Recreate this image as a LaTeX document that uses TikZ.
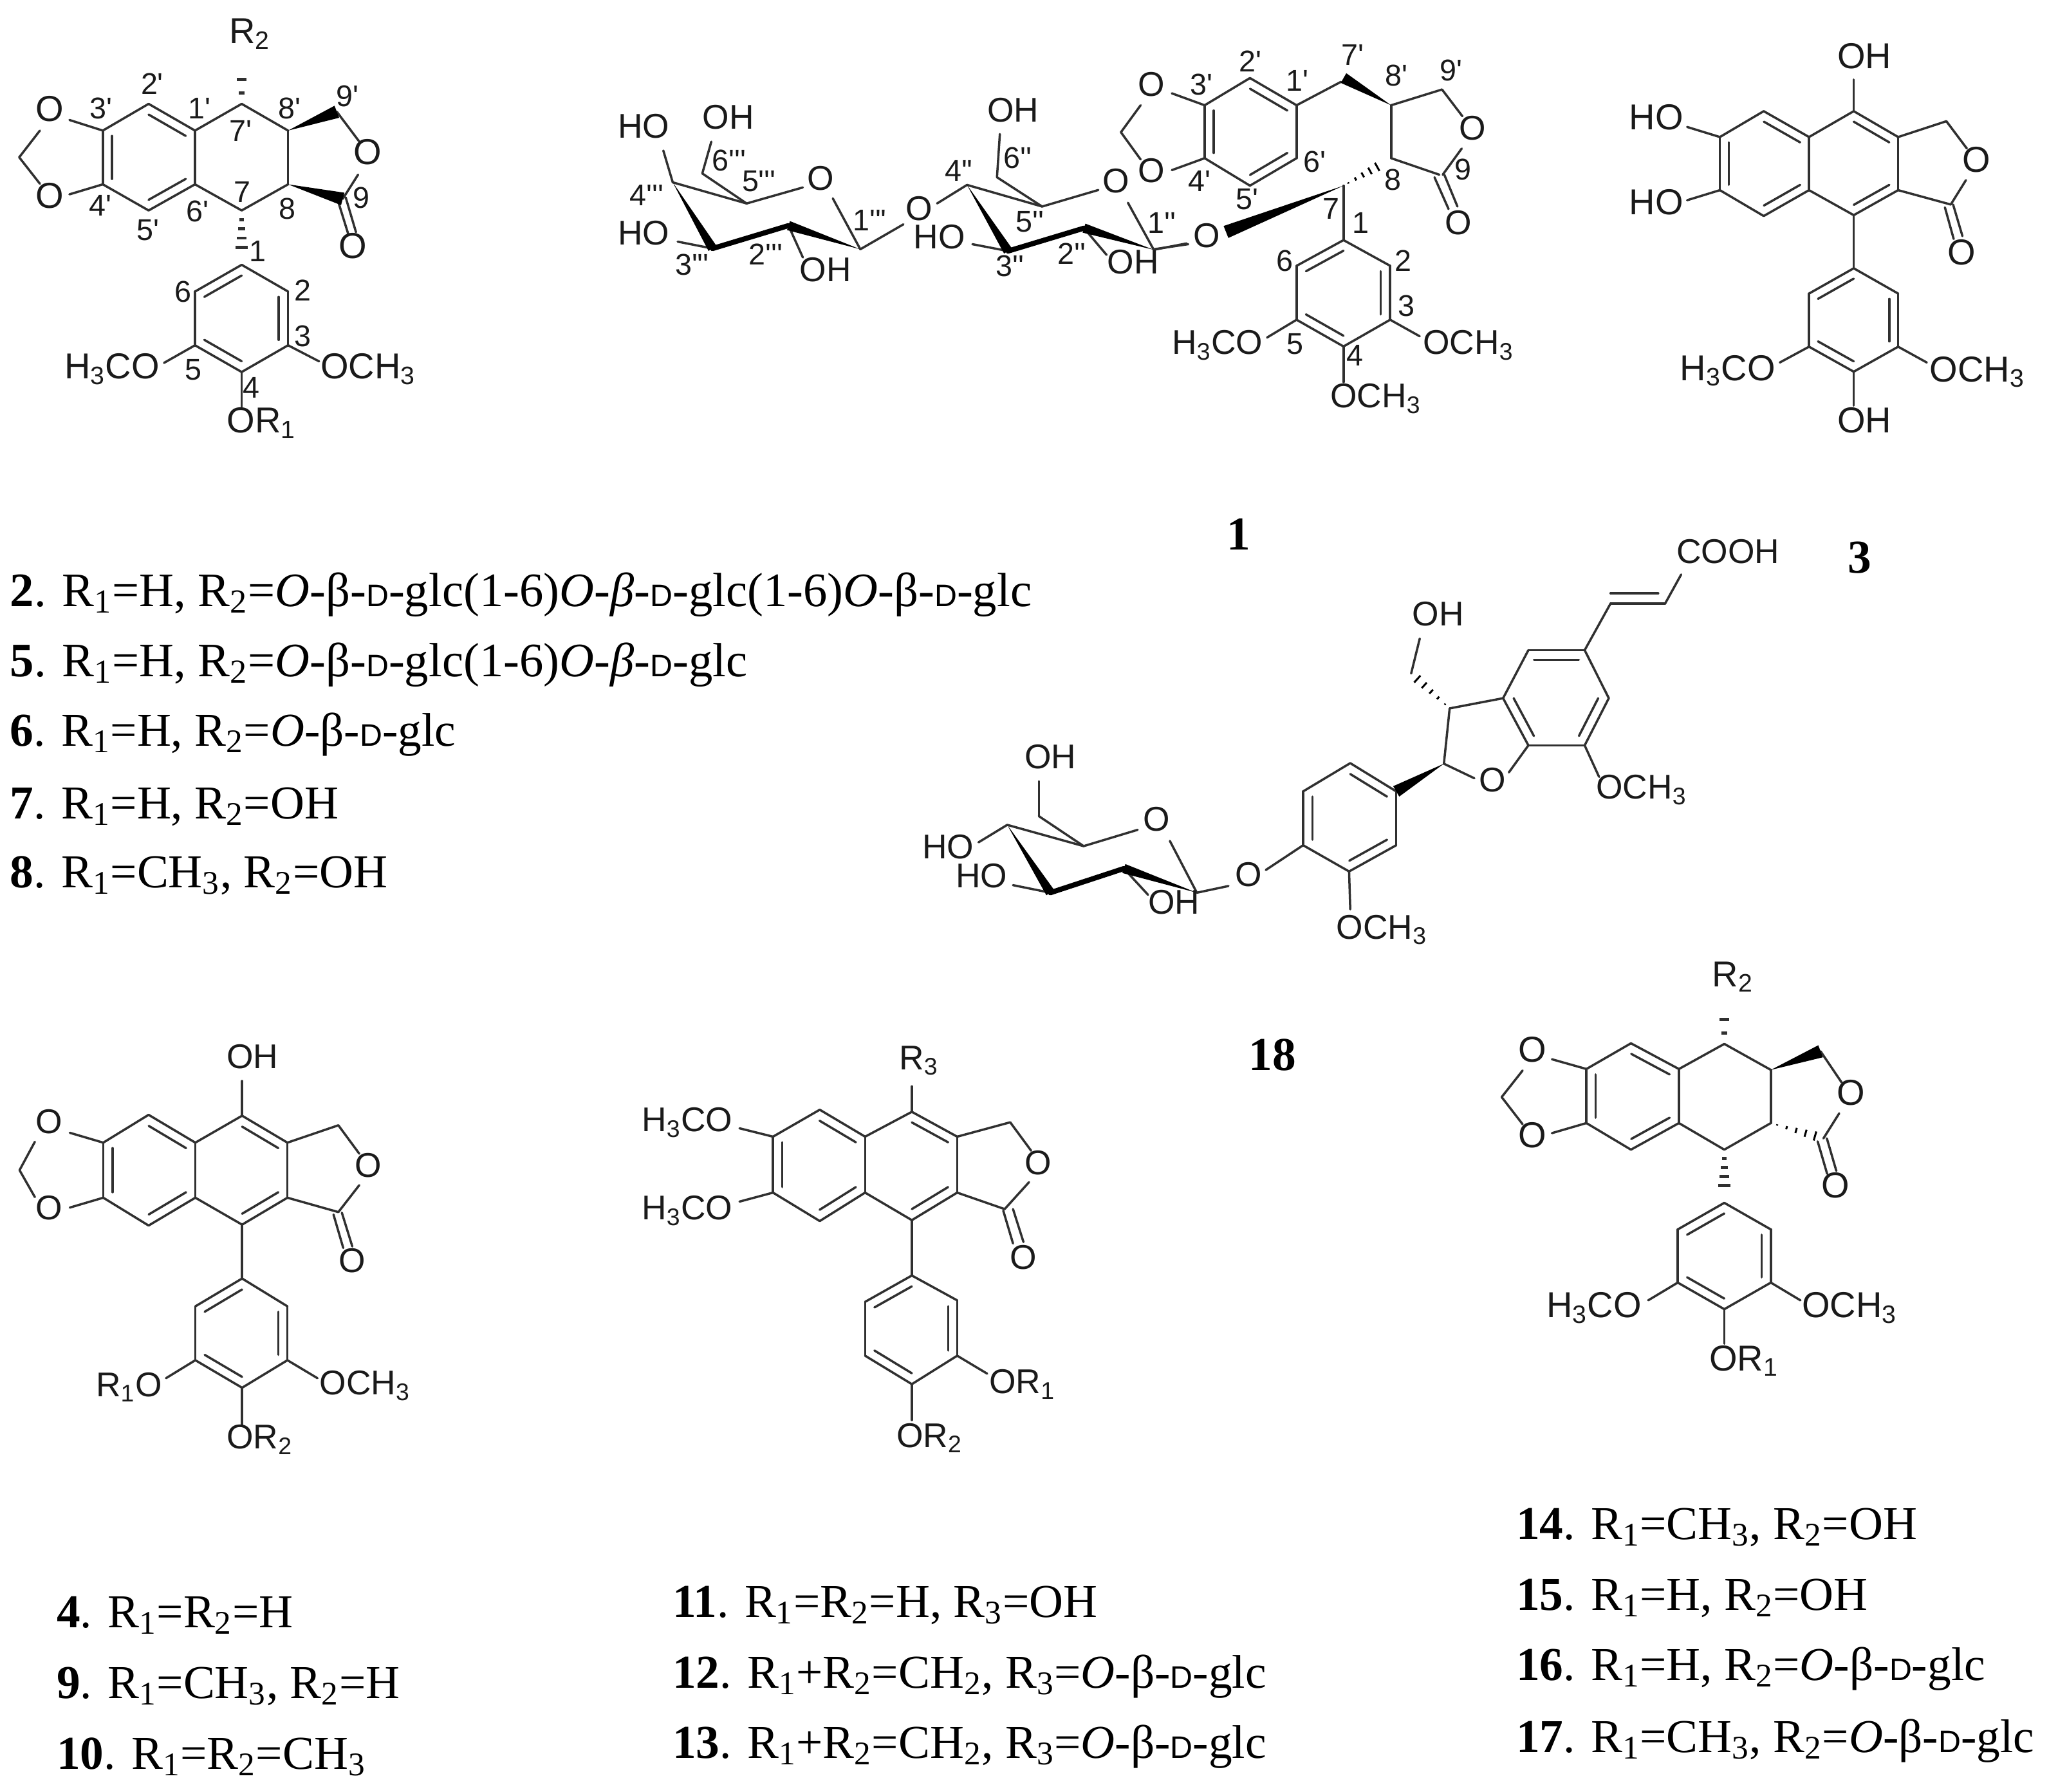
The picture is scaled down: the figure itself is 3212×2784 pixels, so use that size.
\documentclass[tikz,border=0pt]{standalone}
\usepackage{fontspec}
\usetikzlibrary{calc}
\setmainfont{Liberation Serif}
\newfontfamily\chemf{Liberation Sans}
\definecolor{bondc}{HTML}{303030}
\definecolor{textc}{HTML}{1A1A1A}
\newcommand\sbs[1]{\textsubscript{#1}}
\newcommand\dd{{\fontsize{14.5}{14.5}\selectfont\chemf D}}
\newcommand\Ob{\textit{O}-β-\dd-glc}
\newcommand\Obi{\textit{O}-\textit{β}-\dd-glc}
\newcommand\Ra{R\sbs{1}}
\newcommand\Rb{R\sbs{2}}
\newcommand\Rc{R\sbs{3}}
\newcommand\atomsize{16.8}
\tikzset{
 bond/.style={draw=bondc,line width=1.05pt,line cap=round,line join=round},
 boldb/.style={draw=black,line width=2.4pt,line cap=round},
 atom/.style={inner sep=0pt,outer sep=0pt,text=textc,font=\chemf\fontsize{\atomsize}{18}\selectfont,text height=0.72em,text depth=0pt},
 numl/.style={inner sep=0pt,outer sep=0pt,text=textc,font=\chemf\fontsize{14}{15}\selectfont,text height=0.72em,text depth=0pt},
 capt/.style={inner sep=0pt,outer sep=0pt,anchor=base west,text=black,font=\fontsize{22}{25}\selectfont},
 cmpd/.style={inner sep=0pt,outer sep=0pt,anchor=center,text=black,font=\bfseries\fontsize{22}{25}\selectfont},
 sc/.style n args={4}{shift={(#1,#2)},x=#3pt,y=-#4pt}
}
\newcommand\cds[1]{\foreach \n/\x/\y in {#1}{\coordinate (\n) at (\x,\y);}}
\newcommand\bonds[1]{\foreach \p/\q in {#1}{\draw[bond] (\p) -- (\q);}}
\newcommand\dbls[2]{\foreach \p/\q in {#2}{\draw[bond] ($(\p)!0.2!(#1)$) -- ($(\q)!0.2!(#1)$);}}
\newcommand\wdg[3]{\fill[black] (#1) -- ($(#2)!#3pt!90:(#1)$) -- ($(#2)!#3pt!-90:(#1)$) -- cycle;}
\newcommand\hsh[3]{\foreach \t in {0.12,0.3,0.48,0.66,0.84,1.0}{\pgfmathsetmacro\h{\t*#3}\draw[draw=black,line width=0.9pt] ($(#1)!\t!(#2)!\h pt!90:(#2)$) -- ($(#1)!\t!(#2)!\h pt!-90:(#2)$);}}
\newcommand\hshb[4]{\foreach \t in {#4}{\pgfmathsetmacro\h{\t*#3+0.4}\draw[draw=bondc,line width=1.4pt] ($(#1)!\t!(#2)!\h pt!90:(#2)$) -- ($(#1)!\t!(#2)!\h pt!-90:(#2)$);}}
\newcommand\mkC[4]{\node[atom,anchor=center] (#1) at (#2,#3) {#4};}
\newcommand\mkW[4]{\node[atom,anchor=west] (#1) at (#2,#3) {#4};}
\newcommand\mkE[4]{\node[atom,anchor=east] (#1) at (#2,#3) {#4};}
\newcommand\nums[2]{\foreach \x/\y/\t [count=\i] in {#2}{\node[numl] (#1n\i) at (\x,\y) {\t};}}
\begin{document}
\begin{tikzpicture}[x=0.3pt,y=-0.3pt]
\path[fill=white,use as bounding box] (0,0) rectangle (3212,2784);
% ---------- molecule with R2 top left
\begin{scope}[sc={0}{0}{0.13774}{0.14158}]
\cds{A1/348/430,A2/503/342,A3/660/430,A4/660/607,A5/503/693,A6/348/607,Ac/503/518,
A7/818/342,A8/975/430,A9/975/607,A10/818/693,
A11/1140/368,A12/1160/655,A13/65/518,
Aa/235/395,Ab/235/640,Ac1/135/430,Ac2/135/605,Ad/1215/465,Ae/1212/575,
Af1/1145/665,Af2/1180/775,Ag1/1170/650,Ag2/1205/765,Ah/818/215,Aj/818/845,
B1/818/872,B2/975/960,B3/975/1137,B4/818/1225,B5/660/1137,B6/660/960,Bc/818/1048,
Bf/555/1195,Bg/1080/1190,Bh/818/1340}
\bonds{Aa/A1,Ab/A6,Ac1/A13,A13/Ac2,A1/A2,A2/A3,A3/A4,A4/A5,A5/A6,A6/A1,A3/A7,A7/A8,A8/A9,A9/A10,A10/A4,A11/Ad,A12/Ae,Af1/Af2,Ag1/Ag2,
B1/B2,B2/B3,B3/B4,B4/B5,B5/B6,B6/B1,B5/Bf,B3/Bg,B4/Bh}
\dbls{Ac}{A2/A3,A4/A5,A6/A1}
\dbls{Bc}{B1/B6,B2/B3,B4/B5}
\wdg{A8}{A11}{3}
\wdg{A9}{A12}{3}
\hshb{A7}{Ah}{3}{0.28,0.63,1}
\hshb{A10}{Aj}{3}{0.2,0.4,0.6,0.8,1}
\mkC{Ao1}{168}{375}{O}
\mkC{Ao2}{168}{660}{O}
\mkC{Ao3}{1245}{515}{O}
\mkC{Ao4}{1195}{825}{O}
\mkC{Ar2}{845}{118}{\Rb}
\mkE{Bo1}{540}{1222}{H\sbs{3}CO}
\mkW{Bo2}{1085}{1222}{OCH\sbs{3}}
\mkW{Bo3}{768}{1400}{O\Ra}
\nums{A}{515/285/2',342/365/3',675/365/1',815/440/7',980/365/8',1175/325/9',500/765/5',340/685/4',668/705/6',820/640/7,972/695/8,1222/660/9,873/835/1,620/970/6,1025/965/2,1025/1115/3,655/1225/5,850/1285/4}
\end{scope}
% ---------- compound 1, sugars
\begin{scope}[sc={900}{60}{0.19133}{0.11862}]
\renewcommand\atomsize{16}
\cds{C4/228/565,C5/408/648,C1/685/828,C2/510/735,C3/325/825,
Ca/545/585,Cb/618/628,Cc/205/440,Cd/300/530,Ce/322/405,Cf/240/798,Cg/545/860,Ch/790/730,Cj/872/648,
D4/945/575,D5/1128/660,D1/1400/830,D2/1230/745,D3/1045/835,
Da/1265/595,Db/1337/645,Dd/1018/545,De/1025/375,Df/958/808,Dg/1285/850,Dh/1480/805}
\bonds{C4/C5,C5/Ca,Cb/C1,C4/Cc,C5/Cd,Cd/Ce,C3/Cf,C2/Cg,C1/Ch,Cj/D4,D4/D5,D5/Da,Db/D1,D5/Dd,Dd/De,D3/Df,D2/Dg,D1/Dh}
\wdg{C4}{C3}{2.2}
\wdg{C1}{C2}{2.2}
\draw[boldb] (C3) -- (C2);
\wdg{D4}{D3}{2.2}
\wdg{D1}{D2}{2.2}
\draw[boldb] (D3) -- (D2);
\mkC{Co1}{588}{565}{O}
\mkC{Co2}{828}{683}{O}
\mkC{Co3}{157}{360}{HO}
\mkC{Co4}{363}{325}{OH}
\mkC{Co5}{157}{780}{HO}
\mkC{Co6}{600}{925}{OH}
\mkC{Do1}{1308}{575}{O}
\mkC{Do2}{1057}{298}{OH}
\mkC{Do3}{878}{795}{HO}
\mkC{Do4}{1350}{895}{OH}
\nums{C}{165/625/4''',438/570/5''',365/490/6''',708/725/1''',455/858/2''',275/900/3''',925/530/4'',1098/730/5'',1068/478/6'',1420/735/1'',1200/855/2'',1050/905/3''}
\end{scope}
% ---------- compound 1, aglycone
\begin{scope}[sc={1650}{60}{0.15306}{0.11862}]
\renewcommand\atomsize{16}
\cds{E1/435/262,E2/573/155,E3/715/262,E4/715/470,E5/573/578,E6/435/470,Ec/575/366,
Ea/335/215,Eb/335/517,Ed1/240/262,Ed2/180/368,Ed3/240/475,
E7/858/155,Ee/850/170,E8/1003/262,E9/1158/200,Ef/1220/305,E10/1003/470,E11/1150/535,Eg/1218/432,Eh/1160/535,
Ej1/1135/545,Ej2/1178/670,Ek1/1165/535,Ek2/1205/660,
F7/858/578,Fa/980/490,Fo/500/760,F1/858/792,F2/1000/893,F3/1000/1105,F4/858/1210,F5/715/1105,F6/715/893,Fc/858/1000,
Fe/385/808,Ff/280/828,Fg/625/1175,Fh/1090/1170,Fj/858/1350}
\bonds{Ea/E1,Eb/E6,Ed1/Ed2,Ed2/Ed3,E1/E2,E2/E3,E3/E4,E4/E5,E5/E6,E6/E1,E3/Ee,E8/E9,E9/Ef,E8/E10,E10/E11,Eg/Eh,Ej1/Ej2,Ek1/Ek2,
F7/F1,F1/F2,F2/F3,F3/F4,F4/F5,F5/F6,F6/F1,Fe/Ff,F5/Fg,F3/Fh,F4/Fj}
\dbls{Ec}{E2/E3,E4/E5,E6/E1}
\dbls{Fc}{F1/F6,F2/F3,F4/F5}
\wdg{E8}{E7}{2.6}
\wdg{F7}{Fo}{3}
\hsh{F7}{Fa}{2.6}
\mkC{Eo1}{272}{195}{O}
\mkC{Eo2}{272}{535}{O}
\mkC{Eo3}{1250}{368}{O}
\mkC{Eo4}{1208}{740}{O}
\mkC{Fo1}{442}{790}{O}
\mkE{Fo2}{612}{1210}{H\sbs{3}CO}
\mkW{Fo3}{1100}{1210}{OCH\sbs{3}}
\mkW{Fo4}{818}{1420}{OCH\sbs{3}}
\nums{E}{575/100/2',425/190/3',718/175/1',885/75/7',1020/155/8',1185/135/9',770/495/6',420/570/4',565/640/5',1008/565/8,1222/525/9,820/680/7,910/735/1,680/885/6,1040/885/2,1050/1060/3,710/1210/5,893/1255/4}
\end{scope}
% ---------- compound 3
\begin{scope}[sc={2500}{50}{0.13624}{0.13393}]
\cds{G1/380/365,G2/530/275,G3/685/365,G4/685/550,G5/530/640,G6/380/550,Gc/533/458,
G7/838/275,G8/990/365,G9/990/550,G10/838/637,Gd/838/458,
G11/1155/310,G12/1170/600,Ga/1225/405,Gb/1222/515,
Ge1/1150/610,Ge2/1180/720,Gf1/1178/600,Gf2/1210/710,
Gg/838/165,Gh/268/330,Gj/268/585,
H1/838/822,H2/990/910,H3/990/1095,H4/838/1182,H5/685/1095,H6/685/910,Hc/838/1002,
Ha/585/1150,Hb/1088/1150,Hd/838/1300}
\bonds{G1/G2,G2/G3,G3/G4,G4/G5,G5/G6,G6/G1,G3/G7,G7/G8,G8/G9,G9/G10,G10/G4,G8/G11,G11/Ga,G9/G12,Gb/G12,Ge1/Ge2,Gf1/Gf2,Gg/G7,Gh/G1,Gj/G6,G10/H1,
H1/H2,H2/H3,H3/H4,H4/H5,H5/H6,H6/H1,H5/Ha,H3/Hb,H4/Hd}
\dbls{Gc}{G2/G3,G5/G4,G1/G6}
\dbls{Gd}{G7/G8,G9/G10}
\dbls{Hc}{H1/H6,H2/H3,H4/H5}
\mkC{Go1}{1258}{460}{O}
\mkC{Go2}{1208}{782}{O}
\mkC{Go3}{875}{100}{OH}
\mkC{Go4}{162}{312}{HO}
\mkC{Go5}{162}{608}{HO}
\mkE{Ho1}{570}{1185}{H\sbs{3}CO}
\mkW{Ho2}{1098}{1190}{OCH\sbs{3}}
\mkC{Ho3}{875}{1368}{OH}
\end{scope}
% ---------- compound 18
\begin{scope}[sc={1400}{800}{0.26786}{0.13575}]
\renewcommand\atomsize{16}
\cds{J1/1190/465,J2/1232/630,J3/1190/792,J4/1092/792,J5/1048/630,J6/1092/465,Jc/1140/630,
Ja/1358/205,Jb/1330/305,Jd/1235/305,Je1/1318/270,Je2/1235/270,Jf/1215/900,
Jg/1058/885,Jh/998/905,K1/945/855,K2/955/665,Kh/888/545,Ka/903/425,
K3/862/950,K4/862/1135,K5/780/1225,K6/700/1135,K7/700/950,K8/782/853,Kc/782/1040,
Kb/782/1355,Kd/635/1220,Ke/570/1275,
L1/515/1298,L2/388/1215,L3/260/1298,L4/185/1065,L5/318/1138,
La/412/1082,Lb/468/1120,Ld/240/1035,Le/240/915,Lf/135/1125,Lg/195/1272,Lh/430/1305}
\bonds{Ja/Jb,Jb/Jd,Je1/Je2,Jd/J1,J1/J2,J2/J3,J3/J4,J4/J5,J5/J6,J6/J1,J3/Jf,J4/Jg,Jh/K1,K1/K2,K2/J5,Kh/Ka,
K3/K4,K4/K5,K5/K6,K6/K7,K7/K8,K8/K3,K5/Kb,K6/Kd,Ke/L1,L5/La,Lb/L1,L4/L5,L5/Ld,Ld/Le,L4/Lf,L3/Lg,L2/Lh}
\dbls{Jc}{J6/J1,J2/J3,J4/J5}
\dbls{Kc}{K8/K3,K4/K5,K6/K7}
\wdg{K1}{K3}{2.8}
\hsh{K2}{Kh}{2.6}
\wdg{L4}{L3}{2.2}
\wdg{L1}{L2}{2.2}
\draw[boldb] (L3) -- (L2);
\mkW{Jo1}{1350}{140}{COOH}
\mkC{Jo2}{1030}{925}{O}
\mkW{Jo3}{1210}{950}{OCH\sbs{3}}
\mkC{Ko1}{935}{355}{OH}
\mkW{Ko2}{758}{1430}{OCH\sbs{3}}
\mkC{Ko3}{605}{1250}{O}
\mkC{Lo1}{445}{1060}{O}
\mkC{Lo2}{260}{845}{OH}
\mkC{Lo3}{82}{1155}{HO}
\mkC{Lo4}{140}{1255}{HO}
\mkC{Lo5}{475}{1345}{OH}
\end{scope}
% ---------- compound 4 family
\begin{scope}[sc={0}{1600}{0.32524}{0.13953}]
\renewcommand\atomsize{16}
\cds{M1/148/378,M2/213/285,M3/280/378,M4/280/562,M5/213/655,M6/148/562,Mc/214/470,
M7/347/288,M8/412/378,M9/412/562,M10/347/652,Md/347/470,
M11/485/320,M12/485/610,Ma/515/415,Mb/515/520,
Me1/478/618,Me2/492/730,Mf1/490/612,Mf2/505/725,
Mg/347/172,Mh/100/345,Mj/100/595,Mk1/50/375,Mk2/28/470,Mk3/50/560,
N1/347/832,N2/412/925,N3/412/1105,N4/347/1197,N5/280/1105,N6/280/925,Nc/347/1015,
Na/238/1165,Nb/455/1165,Nd/347/1320}
\bonds{M1/M2,M2/M3,M3/M4,M4/M5,M5/M6,M6/M1,M3/M7,M7/M8,M8/M9,M9/M10,M10/M4,M8/M11,M11/Ma,M9/M12,Mb/M12,Me1/Me2,Mf1/Mf2,Mg/M7,Mh/M1,Mj/M6,Mk1/Mk2,Mk2/Mk3,M10/N1,
N1/N2,N2/N3,N3/N4,N4/N5,N5/N6,N6/N1,N5/Na,N3/Nb,N4/Nd}
\dbls{Mc}{M2/M3,M5/M4,M1/M6}
\dbls{Md}{M7/M8,M9/M10}
\dbls{Nc}{N1/N6,N2/N3,N4/N5}
\mkC{Mo1}{70}{322}{O}
\mkC{Mo2}{70}{610}{O}
\mkC{Mo3}{528}{468}{O}
\mkC{Mo4}{505}{785}{O}
\mkC{Mo5}{362}{105}{OH}
\mkE{No1}{232}{1200}{\Ra O}
\mkW{No2}{458}{1195}{OCH\sbs{3}}
\mkW{No3}{325}{1375}{O\Rb}
\end{scope}
% ---------- compound 11 family
\begin{scope}[sc={0}{1600}{0.32524}{0.13953}]
\renewcommand\atomsize{16}
\cds{P1/1108/358,P2/1175/268,P3/1240/358,P4/1240/545,P5/1175/640,P6/1108/545,Pc/1174/452,
P7/1307/275,P8/1372/358,P9/1372/545,P10/1307/637,Pd/1307/452,
P11/1448/310,P12/1440/600,Pa/1478/405,Pb/1475/510,
Pe1/1438/605,Pe2/1452/715,Pf1/1452/600,Pf2/1467/710,
Pg/1307/190,Ph/1060/330,Pj/1060/575,
Q1/1307/822,Q2/1372/905,Q3/1372/1090,Q4/1307/1185,Q5/1240/1090,Q6/1240/910,Qc/1307/1003,
Qa/1415/1150,Qb/1307/1305}
\bonds{P1/P2,P2/P3,P3/P4,P4/P5,P5/P6,P6/P1,P3/P7,P7/P8,P8/P9,P9/P10,P10/P4,P8/P11,P11/Pa,P9/P12,Pb/P12,Pe1/Pe2,Pf1/Pf2,Pg/P7,Ph/P1,Pj/P6,P10/Q1,
Q1/Q2,Q2/Q3,Q3/Q4,Q4/Q5,Q5/Q6,Q6/Q1,Q3/Qa,Q4/Qb}
\dbls{Pc}{P2/P3,P5/P4,P1/P6}
\dbls{Pd}{P7/P8,P9/P10}
\dbls{Qc}{Q1/Q6,Q2/Q3,Q4/Q5}
\mkC{Po1}{1488}{458}{O}
\mkC{Po2}{1467}{775}{O}
\mkC{Po3}{1317}{108}{\Rc}
\mkE{Po4}{1050}{315}{H\sbs{3}CO}
\mkE{Po5}{1050}{610}{H\sbs{3}CO}
\mkW{Qo1}{1418}{1190}{O\Ra}
\mkW{Qo2}{1285}{1370}{O\Rb}
\end{scope}
% ---------- compound 14 family
\begin{scope}[sc={2300}{1480}{0.13393}{0.13774}]
\cds{S1/370/395,S2/525/308,S3/692/395,S4/692/578,S5/525/668,S6/370/578,Sc/530/487,
S7/850/310,S8/1012/398,S9/1012/578,S10/850/668,
S11/1185/335,S12/1195/630,Sa/1258/440,Sb/1250/545,
Se1/1175/640,Se2/1208/750,Sf1/1207/630,Sf2/1240/740,
Sg/250/362,Sh/250/612,Sk1/148/400,Sk2/75/490,Sk3/148/582,Sm/850/180,Sn/850/820,
T1/850/848,T2/1012/938,T3/1012/1118,T4/850/1208,T5/688/1118,T6/688/938,Tc/850/1028,
Ta/585/1178,Tb/1115/1178,Td/850/1325}
\bonds{S1/S2,S2/S3,S3/S4,S4/S5,S5/S6,S6/S1,S3/S7,S7/S8,S8/S9,S9/S10,S10/S4,S11/Sa,Sb/S12,Se1/Se2,Sf1/Sf2,Sg/S1,Sh/S6,Sk1/Sk2,Sk2/Sk3,
T1/T2,T2/T3,T3/T4,T4/T5,T5/T6,T6/T1,T5/Ta,T3/Tb,T4/Td}
\dbls{Sc}{S2/S3,S5/S4,S1/S6}
\dbls{Tc}{T1/T6,T2/T3,T4/T5}
\wdg{S8}{S11}{3}
\hsh{S9}{S12}{2.6}
\hshb{S7}{Sm}{3}{0.28,0.63,1}
\hshb{S10}{Sn}{3}{0.2,0.4,0.6,0.8,1}
\mkC{So1}{182}{345}{O}
\mkC{So2}{182}{635}{O}
\mkC{So3}{1290}{490}{O}
\mkC{So4}{1238}{805}{O}
\mkC{So5}{880}{90}{\Rb}
\mkE{To1}{562}{1210}{H\sbs{3}CO}
\mkW{To2}{1120}{1210}{OCH\sbs{3}}
\mkW{To3}{798}{1390}{O\Ra}
\end{scope}
% ---------- captions
\node[cmpd] (c1) at (1925,830) {1};
\node[cmpd] (c3) at (2890,867) {3};
\node[cmpd] (c18) at (1977,1639) {18};
\node[capt,font=\fontsize{22.4}{25}\selectfont] (t2) at (16,942) {\textbf{2}. \Ra=H, \Rb=\Ob(1-6)\Obi(1-6)\Ob};
\node[capt,font=\fontsize{22.4}{25}\selectfont] (t5) at (16,1051) {\textbf{5}. \Ra=H, \Rb=\Ob(1-6)\Obi};
\node[capt] (t6) at (16,1159) {\textbf{6}. \Ra=H, \Rb=\Ob};
\node[capt] (t7) at (16,1272) {\textbf{7}. \Ra=H, \Rb=OH};
\node[capt] (t8) at (16,1379) {\textbf{8}. \Ra=CH\sbs{3}, \Rb=OH};
\node[capt] (t4) at (88,2529) {\textbf{4}. \Ra=\Rb=H};
\node[capt] (t9) at (88,2639) {\textbf{9}. \Ra=CH\sbs{3}, \Rb=H};
\node[capt] (t10) at (88,2749) {\textbf{10}. \Ra=\Rb=CH\sbs{3}};
\node[capt] (t11) at (1045,2513) {\textbf{11}. \Ra=\Rb=H, \Rc=OH};
\node[capt] (t12) at (1045,2623) {\textbf{12}. \Ra+\Rb=CH\sbs{2}, \Rc=\Ob};
\node[capt] (t13) at (1045,2732) {\textbf{13}. \Ra+\Rb=CH\sbs{2}, \Rc=\Ob};
\node[capt] (t14) at (2356,2392) {\textbf{14}. \Ra=CH\sbs{3}, \Rb=OH};
\node[capt] (t15) at (2356,2502) {\textbf{15}. \Ra=H, \Rb=OH};
\node[capt] (t16) at (2356,2611) {\textbf{16}. \Ra=H, \Rb=\Ob};
\node[capt] (t17) at (2356,2723) {\textbf{17}. \Ra=CH\sbs{3}, \Rb=\Ob};
\end{tikzpicture}
\end{document}
